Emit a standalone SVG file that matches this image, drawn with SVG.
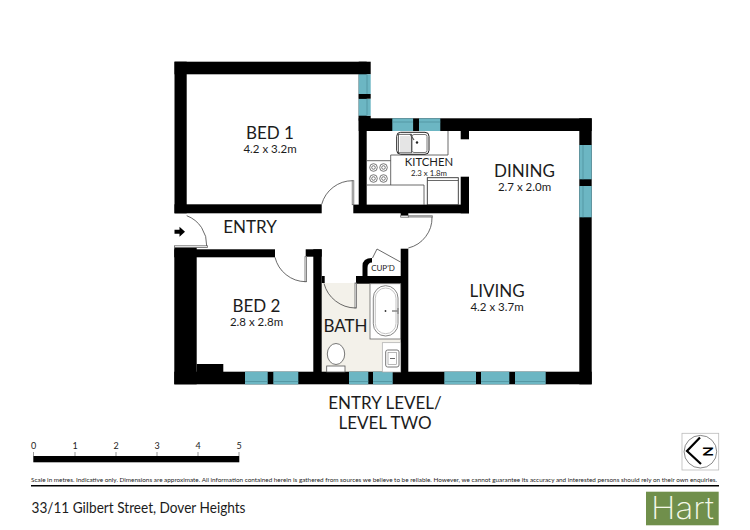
<svg xmlns="http://www.w3.org/2000/svg" width="750" height="530" viewBox="0 0 750 530">
<style>
text{font-family:Lato,"Liberation Sans",sans-serif;fill:#1c1c1c;text-anchor:middle}
.r{font-size:17px}
.d{font-size:11.5px}
.w{fill:#000}
.g{fill:#6cb6c3}
.gl{stroke:#4c8c98;stroke-width:.7;fill:none}
.l{fill:none;stroke:#444;stroke-width:.8}
.e{fill:#fff;stroke:#555;stroke-width:.8}
.leaf{fill:#fff;stroke:#666;stroke-width:.8}
</style>
<rect width="750" height="530" fill="#fff"/>
<rect x="321.7" y="283" width="79" height="89" fill="#f3f1ea"/>
<g id="walls">
<rect class="w" x="174.5" y="61.7" width="196.2" height="12.6"/>
<rect class="w" x="174.5" y="61.7" width="12.2" height="151.6"/>
<rect class="w" x="174.5" y="204.3" width="147.2" height="9"/>
<rect class="w" x="358.7" y="61.7" width="8" height="151"/>
<rect class="w" x="358.7" y="115.7" width="12" height="5"/>
<rect class="w" x="358.7" y="118.3" width="233" height="12.7"/>
<rect class="w" x="579.3" y="118.3" width="12.4" height="266"/>
<rect class="w" x="460.7" y="131" width="8.3" height="8.3"/>
<rect class="w" x="460.7" y="176.7" width="8.3" height="36.6"/>
<rect class="w" x="353.3" y="204.6" width="115.7" height="8.7"/>
<rect class="w" x="400.7" y="213" width="7.6" height="3.7"/>
<rect class="w" x="174.3" y="371.7" width="417.4" height="12.6"/>
<rect class="w" x="174.3" y="247.3" width="22.4" height="137"/>
<rect class="w" x="174.3" y="249.3" width="100.7" height="8"/>
<rect class="w" x="196.7" y="364" width="26.6" height="8"/>
<rect class="w" x="305.7" y="249.3" width="16" height="7.4"/>
<rect class="w" x="313.3" y="249.3" width="8.4" height="123"/>
<rect class="w" x="321.7" y="276" width="3" height="7"/>
<rect class="w" x="400.7" y="248.7" width="7.6" height="124"/>
<rect class="w" x="356" y="276" width="52" height="7.7"/>
<path class="w" d="M362.5 276V266Q362.5 258 372 258V262.5Q367.5 262.5 367.5 268V276Z"/>
</g>
<g id="windows">
<rect class="g" x="358.7" y="74.3" width="12" height="19.7"/>
<rect class="g" x="358.7" y="98.7" width="12" height="17"/>
<path class="gl" d="M367 74.3V94M367 98.7V115.7"/>
<rect class="w" x="358.7" y="94" width="12" height="4.7"/>
<rect class="g" x="392.3" y="118.3" width="20.8" height="12.7"/>
<rect class="g" x="419" y="118.3" width="21.3" height="12.7"/>
<path class="gl" d="M392.3 122H413M419 122H440.3"/>
<rect class="g" x="579.3" y="145" width="12.4" height="34.3"/>
<rect class="g" x="579.3" y="186" width="12.4" height="31.3"/>
<path class="gl" d="M583 145V179.3M583 186V217.3"/>
<rect class="g" x="245" y="371.7" width="22.7" height="12.6"/>
<rect class="g" x="273.3" y="371.7" width="25" height="12.6"/>
<rect class="g" x="349" y="371.7" width="19.3" height="12.6"/>
<rect class="g" x="373" y="371.7" width="19.7" height="12.6"/>
<rect class="g" x="444.3" y="371.7" width="31.7" height="12.6"/>
<rect class="g" x="481" y="371.7" width="28.3" height="12.6"/>
<rect class="g" x="515" y="371.7" width="30.7" height="12.6"/>
<path class="gl" d="M245 381.5H267.7M273.3 381.5H298.3M349 381.5H368.3M373 381.5H392.7M444.3 381.5H476M481 381.5H509.3M515 381.5H545.7"/>
</g>
<g id="doors">
<rect class="leaf" x="174.5" y="245.8" width="33" height="1.6"/>
<path class="l" d="M186.7 215.7A31 31 0 0 1 206.7 246"/>
<path d="M174.5 229.7H179.5V226.7L185 231.7L179.5 236.7V233.7H174.5Z" fill="#000"/>
<rect class="leaf" x="352.2" y="180.7" width="1.6" height="24"/>
<path class="l" d="M321.7 204.3A32 32 0 0 1 352.5 180.7"/>
<rect class="leaf" x="408.3" y="215.8" width="24" height="1.2"/>
<rect class="leaf" x="400.7" y="215.6" width="7.6" height="1.6"/>
<path class="l" d="M432 217A31 31 0 0 1 408.3 248"/>
<rect class="leaf" x="305" y="256.7" width="1.6" height="25"/>
<path class="l" d="M275 257.3A32 32 0 0 0 305.5 281.7"/>
<rect class="leaf" x="355" y="283" width="1.4" height="25"/>
<path class="l" d="M324 283.5A33 33 0 0 0 355.5 308"/>
<path class="l" d="M400.5 262L377 249L372.5 258"/>
</g>
<g id="kitchen-fittings">
<path class="l" d="M448 131V155H390.7V185M367 185H424V205M367 160.7H390.7"/>
<rect x="396.7" y="132.3" width="32.3" height="22" rx="4" fill="#fff" stroke="#222" stroke-width="1"/>
<rect x="412" y="134.5" width="15" height="18" rx="2" class="e"/>
<path d="M400 137H411M400 139H411M400 141H411M400 143H411M400 145H411M400 147H411M400 149H411M400 151H411" stroke="#aaa" stroke-width=".6"/>
<rect x="398.5" y="134.3" width="13" height="18.5" class="l"/>
<path d="M410 134L414 140" stroke="#555" stroke-width="1.2"/>
<circle cx="417" cy="142.5" r="1.2" fill="#222"/>
<g fill="none" stroke="#555" stroke-width=".8"><circle cx="373.5" cy="167.5" r="3.8"/><circle cx="373.5" cy="167.5" r="1.8"/><circle cx="383.5" cy="167.5" r="3.8"/><circle cx="383.5" cy="167.5" r="1.8"/><circle cx="373.5" cy="178.5" r="3.8"/><circle cx="373.5" cy="178.5" r="1.8"/><circle cx="383.5" cy="178.5" r="3.8"/><circle cx="383.5" cy="178.5" r="1.8"/></g>
<rect x="427.3" y="177.7" width="31" height="27" fill="#fff" stroke="#333" stroke-width=".9"/>
<path class="l" d="M427.3 180.5H458.3"/>
</g>
<g id="bath-fittings">
<rect x="370" y="283.7" width="30.7" height="55.3" fill="#fff" stroke="#666" stroke-width=".8"/>
<rect x="373.3" y="285.7" width="24.7" height="50.3" rx="12.3" fill="#fff" stroke="#777" stroke-width=".9"/>
<rect x="375.3" y="288" width="20.7" height="45.7" rx="10.3" fill="none" stroke="#aaa" stroke-width=".7"/>
<circle cx="385.5" cy="311" r=".9" fill="#333"/>
<path d="M392 311H398M398 308V314" stroke="#888" stroke-width="1.3"/>
<rect x="382.3" y="342.7" width="18.4" height="29.3" fill="#fff" stroke="#aaa" stroke-width=".7"/>
<rect x="385.7" y="350" width="13.3" height="17" rx="2" fill="#fff" stroke="#777" stroke-width="1"/>
<rect x="388" y="352.5" width="8.6" height="12" fill="none" stroke="#888" stroke-width=".6"/>
<path d="M390 358.5H395" stroke="#444" stroke-width=".8"/>
<ellipse cx="336" cy="354" rx="8.7" ry="10.5" fill="#fff" stroke="#555" stroke-width=".8"/>
<rect x="326.7" y="366" width="18.3" height="6" fill="#fff" stroke="#555" stroke-width=".8"/>
</g>
<g id="bed1"><text class="r" x="270" y="139">BED 1</text><text class="d" x="270" y="153.3">4.2 x 3.2m</text></g>
<g id="entry"><text class="r" x="250" y="233">ENTRY</text></g>
<g id="kitchen"><text x="429" y="165.5" font-size="11.3">KITCHEN</text><text x="429" y="176" font-size="7.8">2.3 x 1.8m</text></g>
<g id="dining"><text class="r" x="524.5" y="176.7">DINING</text><text class="d" x="524.5" y="190.7">2.7 x 2.0m</text></g>
<g id="living"><text class="r" x="497" y="297">LIVING</text><text class="d" x="497" y="311">4.2 x 3.7m</text></g>
<g id="bed2"><text class="r" x="256.5" y="311.7">BED 2</text><text class="d" x="256.5" y="325.7">2.8 x 2.8m</text></g>
<g id="bath"><text class="r" x="345.5" y="332.3">BATH</text></g>
<g id="cupd"><text x="383" y="270.7" font-size="8">CUP'D</text></g>
<g id="level-title"><text x="385" y="408.5" font-size="17">ENTRY LEVEL/</text><text x="385" y="429" font-size="17">LEVEL TWO</text></g>
<g id="scale">
<rect x="33.3" y="456" width="206" height="6.3" fill="#000"/>
<path d="M33.5 452V456M75 452V456M116 452V456M157 452V456M198 452V456M239 452V456" stroke="#555" stroke-width=".6"/>
<g font-size="9"><text x="33.5" y="448.5">0</text><text x="75" y="448.5">1</text><text x="116" y="448.5">2</text><text x="157" y="448.5">3</text><text x="198" y="448.5">4</text><text x="239" y="448.5">5</text></g>
</g>
<text x="31" y="482" font-size="5.5" style="text-anchor:start" textLength="686" lengthAdjust="spacingAndGlyphs">Scale in metres. Indicative only. Dimensions are approximate. All information contained herein is gathered from sources we believe to be reliable. However, we cannot guarantee its accuracy and interested persons should rely on their own enquiries.</text>
<rect x="31" y="485" width="688" height="1.5" fill="#000"/>
<text x="31.5" y="513" font-size="15.5" style="text-anchor:start" textLength="214" lengthAdjust="spacingAndGlyphs">33/11 Gilbert Street, Dover Heights</text>
<g id="compass">
<rect x="682" y="433.3" width="36.7" height="36.7" fill="#fff" stroke="#bbb" stroke-width=".8"/>
<circle cx="700.4" cy="451.7" r="16.3" fill="#fff" stroke="#555" stroke-width=".7"/>
<path d="M700 437.5L687 451L701 464" fill="none" stroke="#000" stroke-width="2.2"/>
<text x="0" y="0" font-size="13" font-weight="700" transform="translate(702.5 451.5) rotate(90)" style="fill:#000">N</text>
</g>
<g id="logo">
<rect x="646" y="491.7" width="72.7" height="33.6" fill="#708f4b"/>
<text x="682.5" y="518.5" font-size="31" textLength="63" lengthAdjust="spacingAndGlyphs" style="font-family:Inter,'Liberation Sans',sans-serif;font-weight:200;fill:#f4f8e8">Hart</text>
</g>
</svg>
